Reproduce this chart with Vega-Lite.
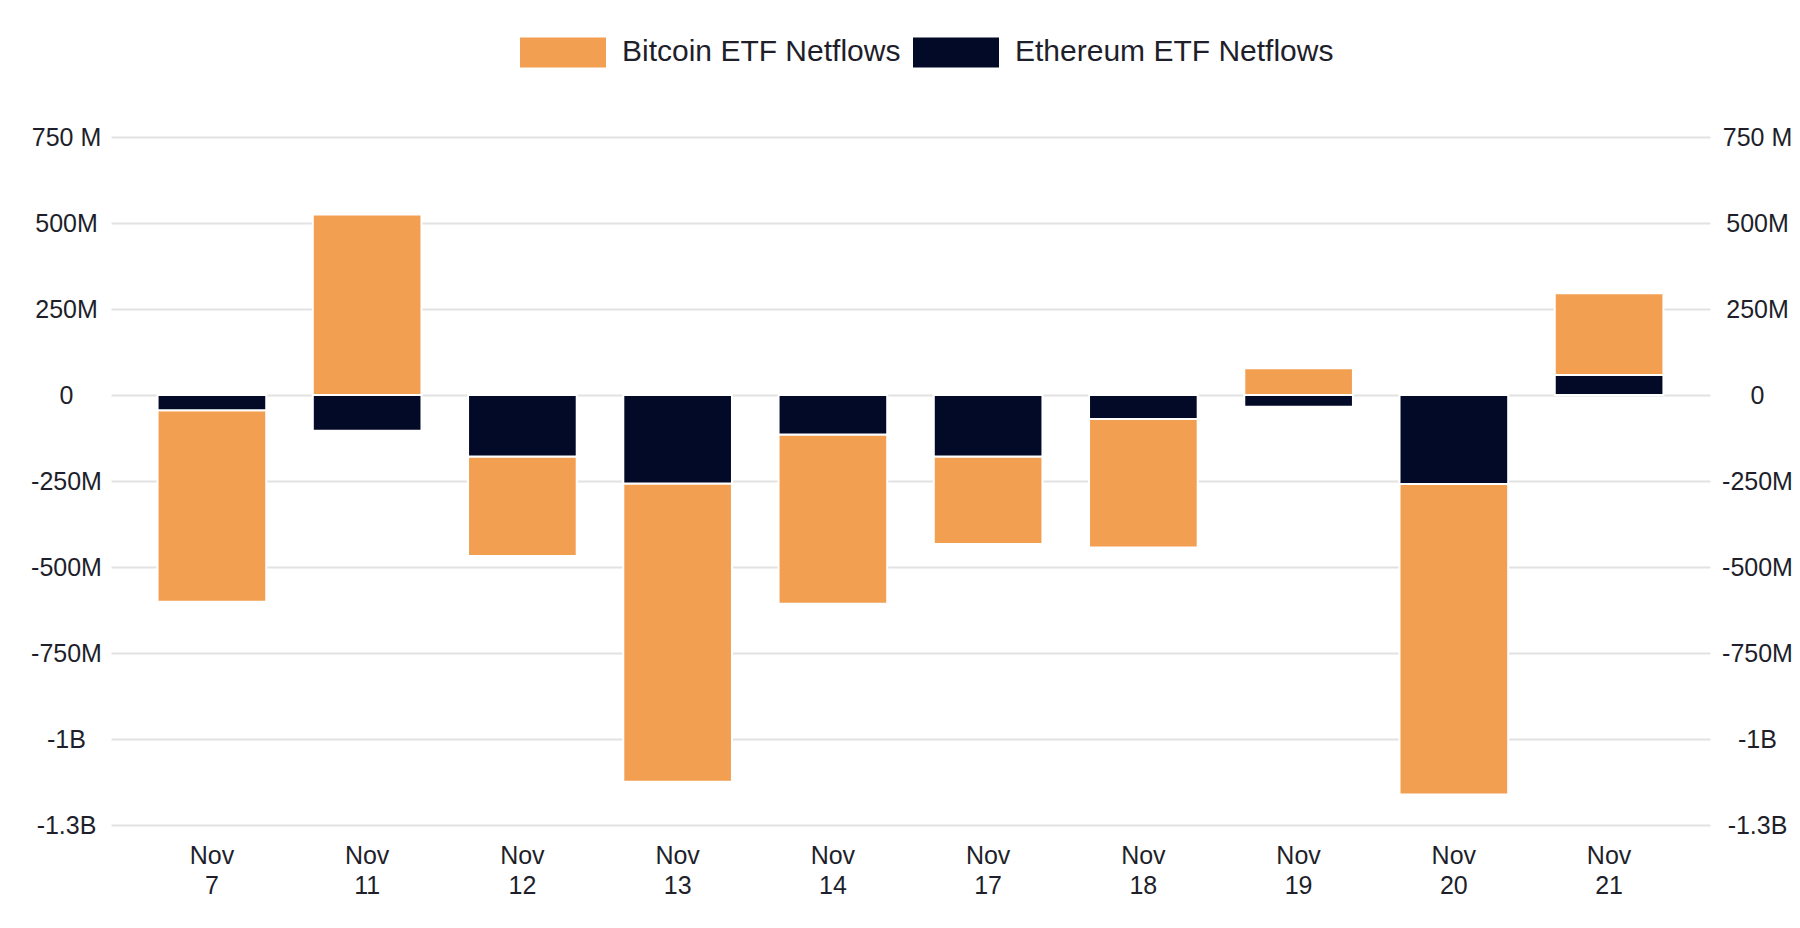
{
  "$schema": "https://vega.github.io/schema/vega-lite/v6.json",
  "width": 1599,
  "height": 688,
  "autosize": "none",
  "padding": {"left": 111, "top": 137, "right": 90, "bottom": 103},
  "background": "white",
  "data": {
    "values": [
      {"day": "Nov 7", "series": "Bitcoin ETF Netflows", "flow": -557},
      {"day": "Nov 7", "series": "Ethereum ETF Netflows", "flow": -44},
      {"day": "Nov 11", "series": "Bitcoin ETF Netflows", "flow": 525},
      {"day": "Nov 11", "series": "Ethereum ETF Netflows", "flow": -104},
      {"day": "Nov 12", "series": "Bitcoin ETF Netflows", "flow": -289},
      {"day": "Nov 12", "series": "Ethereum ETF Netflows", "flow": -179},
      {"day": "Nov 13", "series": "Bitcoin ETF Netflows", "flow": -867},
      {"day": "Nov 13", "series": "Ethereum ETF Netflows", "flow": -257},
      {"day": "Nov 14", "series": "Bitcoin ETF Netflows", "flow": -492},
      {"day": "Nov 14", "series": "Ethereum ETF Netflows", "flow": -115},
      {"day": "Nov 17", "series": "Bitcoin ETF Netflows", "flow": -254},
      {"day": "Nov 17", "series": "Ethereum ETF Netflows", "flow": -179},
      {"day": "Nov 18", "series": "Bitcoin ETF Netflows", "flow": -373},
      {"day": "Nov 18", "series": "Ethereum ETF Netflows", "flow": -70},
      {"day": "Nov 19", "series": "Bitcoin ETF Netflows", "flow": 78},
      {"day": "Nov 19", "series": "Ethereum ETF Netflows", "flow": -34},
      {"day": "Nov 20", "series": "Bitcoin ETF Netflows", "flow": -902},
      {"day": "Nov 20", "series": "Ethereum ETF Netflows", "flow": -259},
      {"day": "Nov 21", "series": "Bitcoin ETF Netflows", "flow": 238},
      {"day": "Nov 21", "series": "Ethereum ETF Netflows", "flow": 58}
    ]
  },
  "encoding": {
    "x": {
      "field": "day",
      "type": "nominal",
      "sort": null,
      "title": null,
      "scale": {"paddingInner": 0.3, "paddingOuter": 0.3},
      "axis": {
        "labelAngle": 0,
        "labelExpr": "split(datum.label, ' ')",
        "labelLineHeight": 30,
        "labelPadding": 18,
        "ticks": false,
        "domain": false
      }
    }
  },
  "layer": [
    {
      "mark": {"type": "bar", "stroke": "white", "strokeWidth": 2},
      "encoding": {
        "y": {
          "field": "flow",
          "type": "quantitative",
          "stack": "zero",
          "title": null,
          "scale": {"domain": [-1250, 750], "nice": false, "zero": false},
          "axis": {
            "orient": "left",
            "values": [-1250, -1000, -750, -500, -250, 0, 250, 500, 750],
            "labelExpr": "datum.value == 750 ? '750 M' : datum.value == 0 ? '0' : datum.value == -1000 ? '-1B' : datum.value == -1250 ? '-1.3B' : (datum.value < 0 ? '-' : '') + abs(datum.value) + 'M'",
            "grid": true,
            "labelAlign": "center",
            "labelPadding": 45
          }
        },
        "color": {
          "field": "series",
          "type": "nominal",
          "title": null,
          "scale": {
            "domain": ["Bitcoin ETF Netflows", "Ethereum ETF Netflows"],
            "range": ["#F39F52", "#030A27"]
          },
          "legend": {
            "orient": "none",
            "direction": "horizontal",
            "legendX": 409,
            "legendY": -128,
            "symbolType": "M-1,-0.35H1V0.35H-1Z",
            "symbolSize": 7396,
            "symbolStrokeWidth": 0,
            "symbolOpacity": 1,
            "labelFontSize": 30,
            "labelLimit": 500,
            "labelOffset": 16,
            "columnPadding": 12
          }
        },
        "order": {"field": "series", "sort": "descending"}
      }
    },
    {
      "mark": {"type": "bar", "opacity": 0},
      "encoding": {
        "y": {
          "field": "flow",
          "type": "quantitative",
          "stack": null,
          "title": null,
          "scale": {"domain": [-1250, 750], "nice": false, "zero": false},
          "axis": {
            "orient": "right",
            "values": [-1250, -1000, -750, -500, -250, 0, 250, 500, 750],
            "labelExpr": "datum.value == 750 ? '750 M' : datum.value == 0 ? '0' : datum.value == -1000 ? '-1B' : datum.value == -1250 ? '-1.3B' : (datum.value < 0 ? '-' : '') + abs(datum.value) + 'M'",
            "grid": false,
            "labelAlign": "center",
            "labelPadding": 47
          }
        }
      }
    }
  ],
  "resolve": {"scale": {"y": "independent"}},
  "config": {
    "view": {"stroke": null},
    "font": "Liberation Sans",
    "axis": {
      "labelFont": "Liberation Sans",
      "labelFontSize": 25,
      "labelColor": "#1E1F2B",
      "ticks": false,
      "domain": false,
      "gridColor": "#E2E2E4",
      "gridWidth": 2
    },
    "legend": {
      "labelFont": "Liberation Sans",
      "labelColor": "#1E1F2B"
    }
  }
}
